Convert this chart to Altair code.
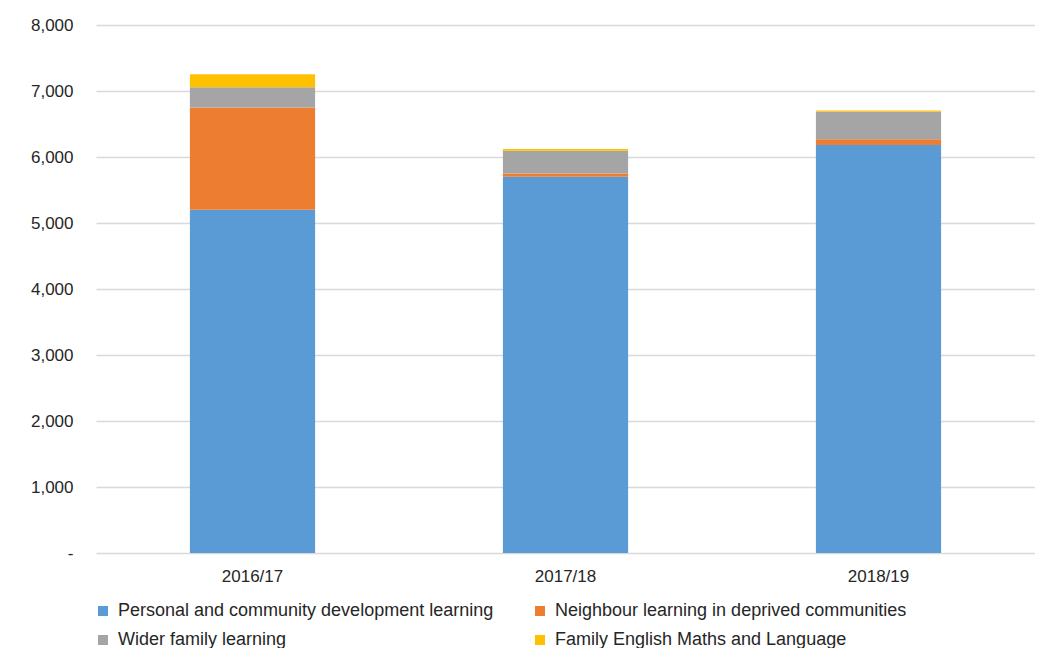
import altair as alt
import pandas as pd

years = ["2016/17", "2017/18", "2018/19"]
series = [
    "Personal and community development learning",
    "Neighbour learning in deprived communities",
    "Wider family learning",
    "Family English Maths and Language",
]
personal = [5200, 5700, 6180]
neighbour = [1550, 50, 90]
wider = [305, 345, 415]
family = [200, 25, 20]
colors = ["#5B9BD5", "#ED7D31", "#A5A5A5", "#FFC000"]

rows = []
for i, y in enumerate(years):
    for k, (s, vals) in enumerate(zip(series, [personal, neighbour, wider, family])):
        rows.append({"year": y, "series": s, "value": vals[i], "order": k})
df = pd.DataFrame(rows)

font = "Liberation Sans"

chart = alt.Chart(df).mark_bar().encode(
    x=alt.X("year:N", sort=years, title=None,
            scale=alt.Scale(paddingInner=0.6, paddingOuter=0.3),
            axis=alt.Axis(labelAngle=0, ticks=False, domain=False, labelPadding=15,
                          labelFontSize=17, labelColor="#262626", labelFont=font)),
    y=alt.Y("value:Q", stack="zero", title=None,
            scale=alt.Scale(domain=[0, 8000]),
            axis=alt.Axis(values=list(range(0, 8001, 1000)), ticks=False, domain=False,
                          labelPadding=23, labelFontSize=17, labelColor="#262626", labelFont=font,
                          gridColor="#d9d9d9", gridWidth=1.5,
                          labelExpr="datum.value == 0 ? '-' : format(datum.value, ',')")),
    color=alt.Color("series:N", sort=series,
                    scale=alt.Scale(domain=series, range=colors),
                    legend=alt.Legend(title=None, orient="none", legendX=-2, legendY=577,
                                      direction="horizontal",
                                      columns=2, columnPadding=37, rowPadding=11,
                                      symbolType="square", symbolSize=100, symbolStrokeWidth=0,
                                      labelFontSize=18, labelColor="#262626", labelFont=font,
                                      labelOffset=6, labelLimit=600)),
    order=alt.Order("order:Q", sort="ascending"),
).properties(
    width=939, height=528,
    autosize=alt.AutoSizeParams(type="none"),
    padding={"left": 88, "top": 17, "right": 0, "bottom": 95},
).configure_view(stroke=None)

chart.save("out.html", embed_options={"renderer": "svg", "actions": False})
